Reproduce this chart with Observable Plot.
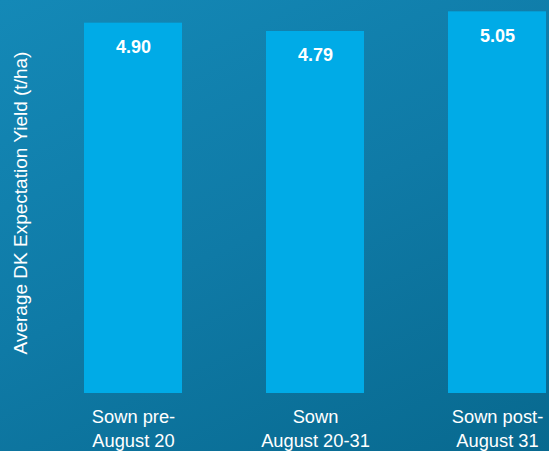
<!DOCTYPE html>
<html>
<head>
<meta charset="utf-8">
<script src="https://cdn.jsdelivr.net/npm/d3@7"></script>
<script src="https://cdn.jsdelivr.net/npm/@observablehq/plot@0.6"></script>
<style>
  html, body { margin: 0; padding: 0; }
  body { width: 549px; height: 451px; overflow: hidden;
         background: linear-gradient(155deg, #1489b7 0%, #0f7aa6 50%, #08698f 100%); }
  #chart svg { display: block; background: transparent; }
</style>
</head>
<body>
<div id="chart"></div>
<script>
const categories = ["pre", "mid", "post"];
const tickLabels = ["Sown pre-\nAugust 20", "Sown\nAugust 20-31", "Sown post-\nAugust 31"];
const yields = [4.90, 4.79, 5.05];
const valueLabels = ["4.90", "4.79", "5.05"];

const data = categories.map((c, i) => ({cat: c, value: yields[i], label: valueLabels[i], tick: tickLabels[i]}));

const chart = Plot.plot({
  width: 549,
  height: 451,
  marginTop: 0,
  marginBottom: 58,
  marginLeft: 83,
  marginRight: 1,
  style: {background: "transparent", fontFamily: "Liberation Sans, Arial, sans-serif", color: "white", overflow: "visible"},
  x: {domain: categories, paddingInner: 0.459, paddingOuter: 0, axis: null},
  y: {domain: [0, 5.2], axis: null},
  marks: [
    Plot.barY(data, {x: "cat", y: "value", fill: "#00abe7"}),
    Plot.text(data, {x: "cat", y: "value", text: "label", dy: 24, fill: "white",
      fontSize: 18, fontWeight: "bold", lineAnchor: "middle"}),
    Plot.text(data, {x: "cat", y: 0, text: "tick", dy: 12, fill: "white",
      fontSize: 18.3, lineAnchor: "top", lineHeight: 1.34}),
    Plot.text(["Average DK Expectation Yield (t/ha)"], {
      frameAnchor: "left", dx: -63, dy: 6, rotate: -90, text: d => d,
      fill: "white", fontSize: 19, lineAnchor: "middle", textAnchor: "middle"})
  ]
});
document.getElementById("chart").appendChild(chart);
</script>
</body>
</html>
